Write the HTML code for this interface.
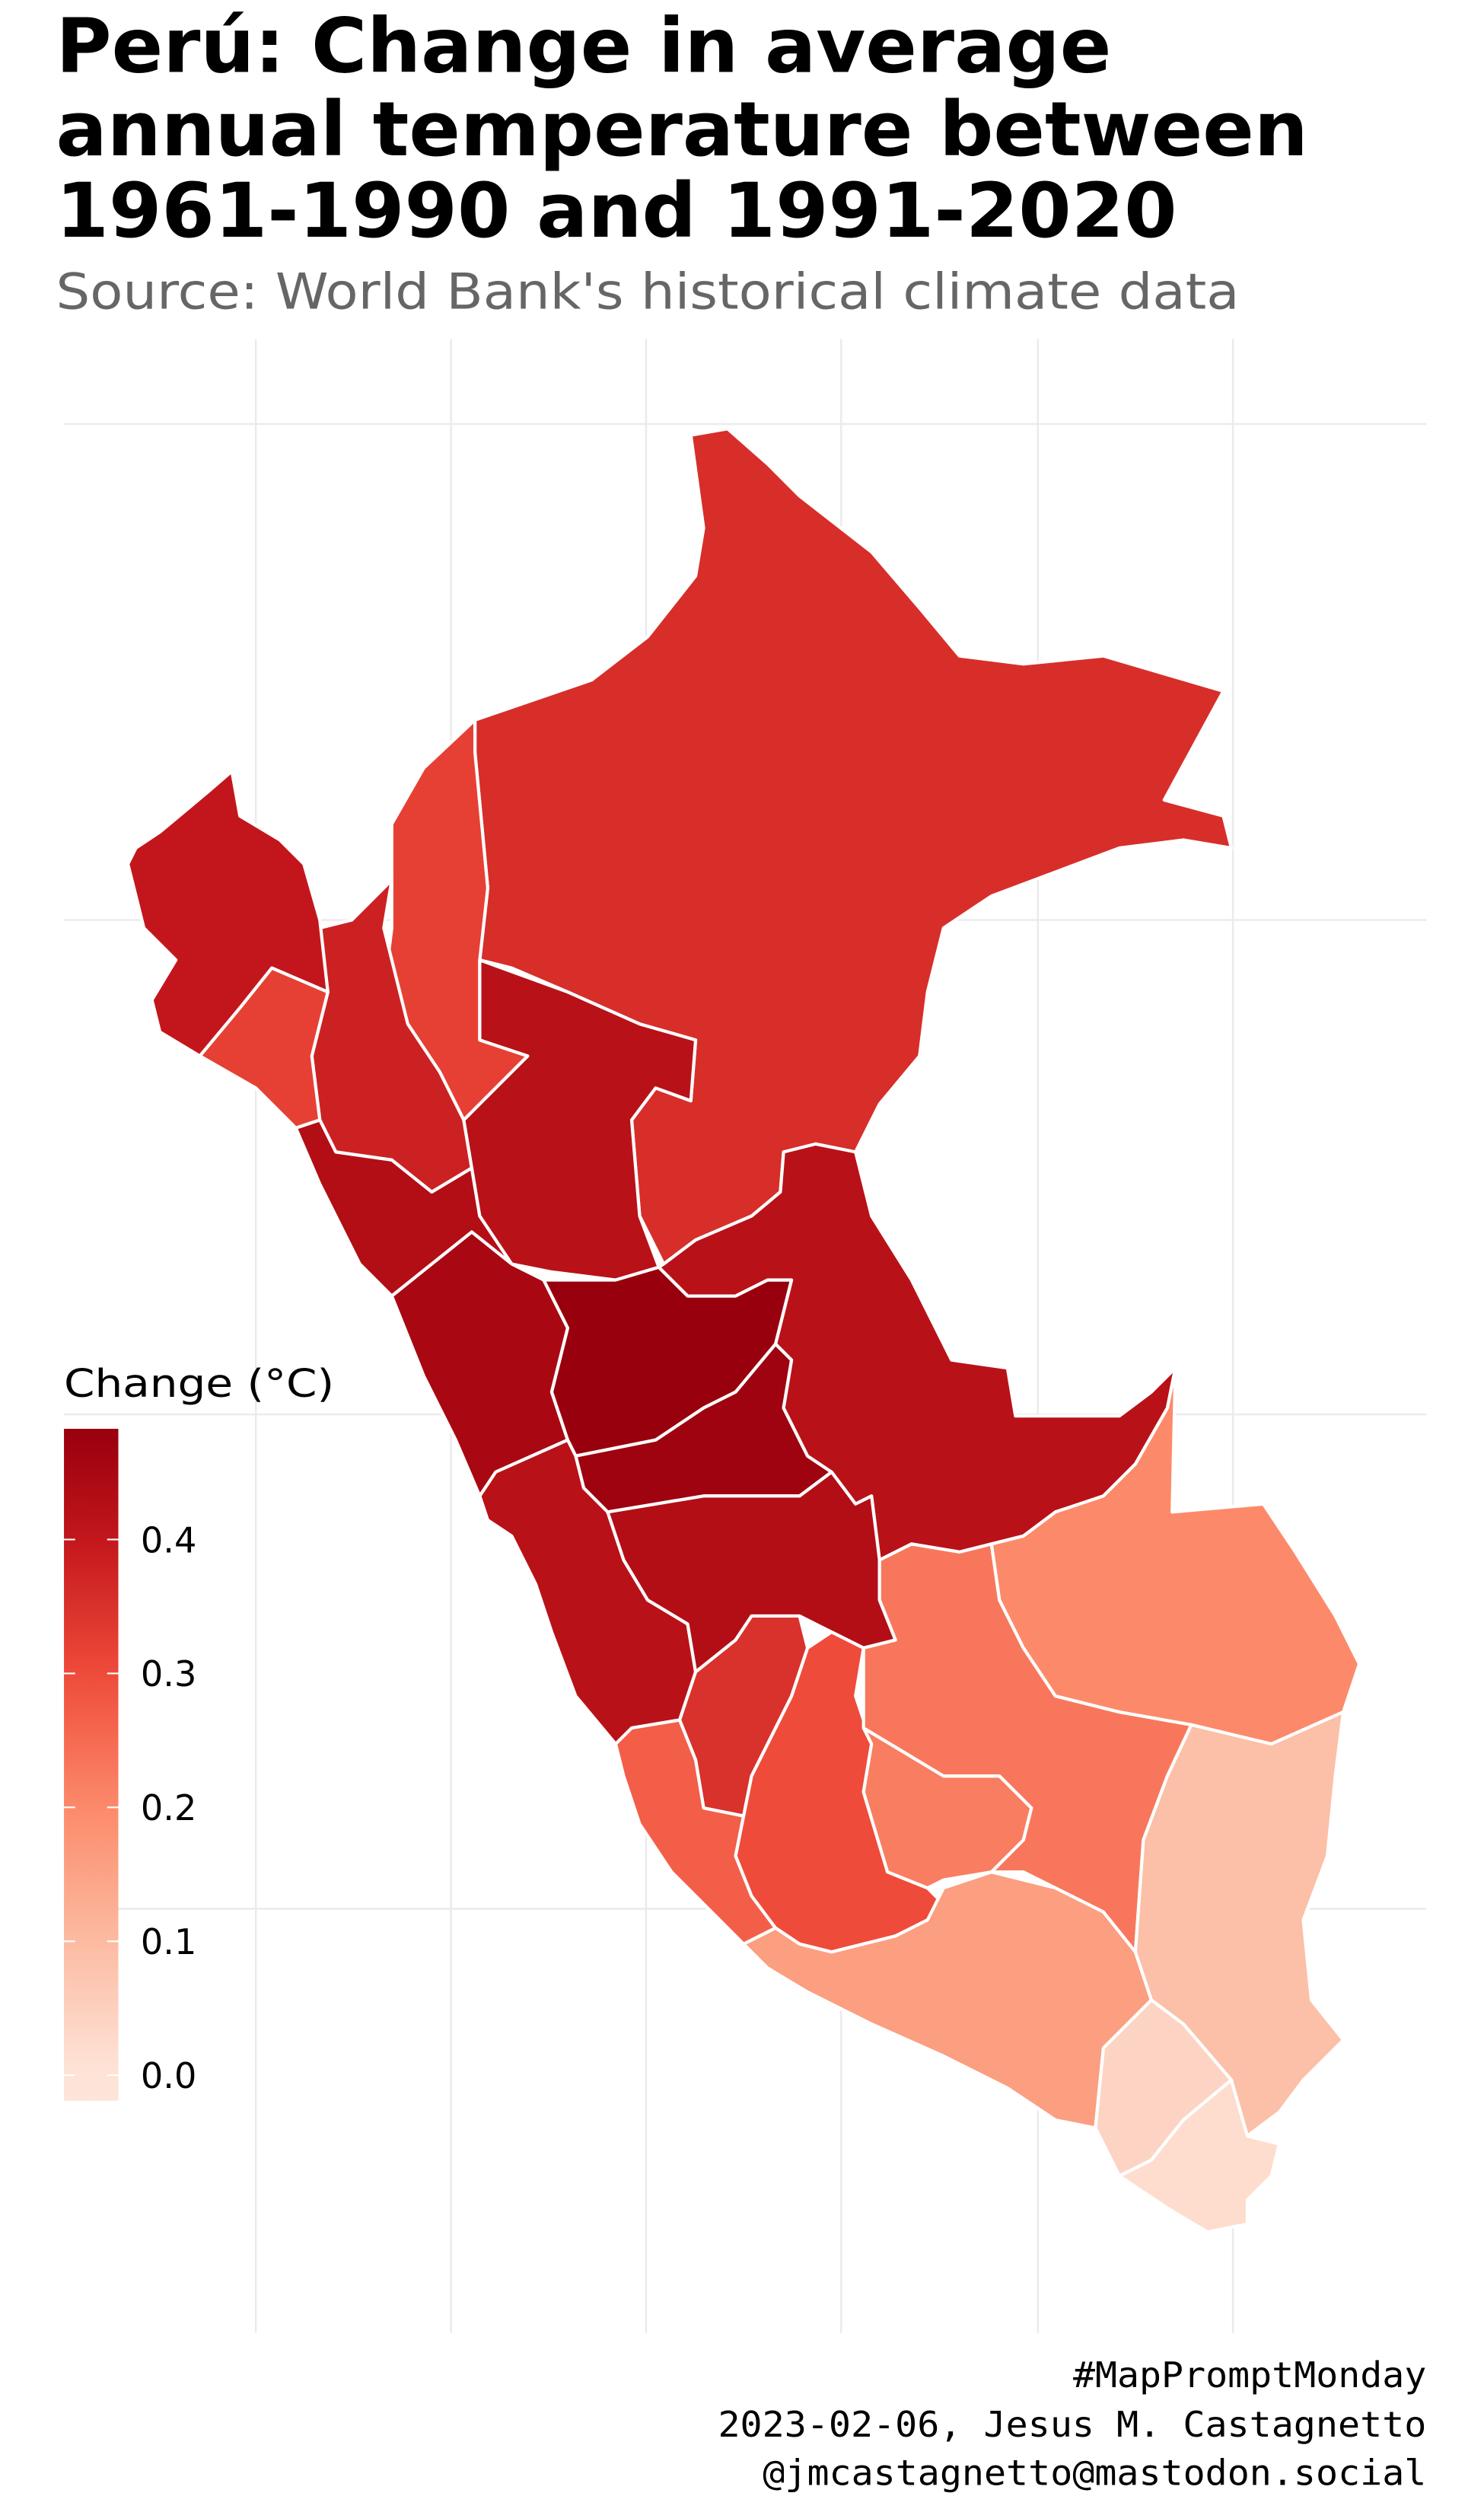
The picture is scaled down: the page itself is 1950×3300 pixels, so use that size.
<!DOCTYPE html>
<html><head><meta charset="utf-8">
<style>
html,body{margin:0;padding:0;background:#fff;}
svg{display:block;}
text{font-family:"DejaVu Sans","Liberation Sans",sans-serif;}
.mono{font-family:"DejaVu Sans Mono","Liberation Mono",monospace;}
</style></head>
<body>
<svg id="chart" width="1950" height="3300" viewBox="0 0 928 1570" preserveAspectRatio="none" xmlns="http://www.w3.org/2000/svg">
<g font-weight="bold" font-size="47" fill="#000">
<text x="35" y="45" textLength="660" lengthAdjust="spacingAndGlyphs">Perú: Change in average</text>
<text x="35" y="97" textLength="783" lengthAdjust="spacingAndGlyphs">annual temperature between</text>
<text x="35" y="148" textLength="701" lengthAdjust="spacingAndGlyphs">1961-1990 and 1991-2020</text>
</g>
<text x="35" y="193" font-size="31" fill="#666" textLength="740" lengthAdjust="spacingAndGlyphs">Source: World Bank's historical climate data</text>
<g id="grid" stroke="#ebebeb" stroke-width="1.2"></g>
<g id="regions" stroke="#fff" stroke-width="2" stroke-linejoin="round"></g>
<g id="legend">
<text x="40" y="873" font-size="24" fill="#000" textLength="169" lengthAdjust="spacingAndGlyphs">Change (°C)</text>
<defs><linearGradient id="grad" x1="0" y1="1" x2="0" y2="0"></linearGradient></defs>
<rect x="40" y="893" width="34" height="420" fill="url(#grad)"/>
</g>
<g font-size="22" fill="#000" text-anchor="end">
<text class="mono" x="892" y="1492" textLength="221" lengthAdjust="spacingAndGlyphs">#MapPromptMonday</text>
<text class="mono" x="892" y="1523" textLength="443" lengthAdjust="spacingAndGlyphs">2023-02-06, Jesus M. Castagnetto</text>
<text class="mono" x="892" y="1553" textLength="415" lengthAdjust="spacingAndGlyphs">@jmcastagnetto@mastodon.social</text>
</g>
</svg>
<script>
const regionNames=["Loreto","Amazonas","Cajamarca","Piura","Lambayeque","La Libertad","San Martin","Ancash","Huanuco","Pasco","Ucayali","Lima","Junin","Huancavelica","Ica","Ayacucho","Apurimac","Cusco","Madre de Dios","Arequipa","Puno","Moquegua","Tacna"];
const regionValues=[0.355,0.32,0.38,0.40,0.32,0.43,0.42,0.45,0.48,0.47,0.42,0.42,0.43,0.35,0.27,0.30,0.22,0.23,0.20,0.16,0.09,0.04,0.02];
const legendTicks=[0.0,0.1,0.2,0.3,0.4];
const shapes=[
"297,450 370,425 405,398 435,360 440,330 432,272 455,268 480,290 500,310 545,345 575,380 600,410 640,415 690,410 765,432 728,500 765,510 770,530 740,525 700,530 660,545 620,560 590,580 580,620 575,660 550,690 535,720 510,715 490,720 488,745 470,760 435,775 415,790 400,760 395,700 410,680 432,688 435,650 400,640 355,620 320,605 300,600 305,555 297,470",
"297,450 297,470 305,555 300,600 300,650 330,660 300,690 290,700 275,670 255,640 240,620 245,580 245,515 265,480",
"245,550 240,580 255,640 275,670 290,700 295,730 270,745 245,725 210,720 200,700 195,660 205,620 200,580 220,575",
"85,530 100,520 130,495 145,482 150,510 175,525 190,540 200,575 205,620 170,605 150,630 125,660 100,645 95,625 110,600 90,580 80,540",
"125,660 150,630 170,605 205,620 195,660 200,700 185,705 160,680",
"185,705 200,700 210,720 245,725 270,745 295,730 300,760 320,790 295,770 270,790 245,810 225,790 200,740",
"300,600 355,620 400,640 435,650 432,688 410,680 395,700 400,760 412,792 385,800 345,795 320,790 300,760 295,730 290,700 300,690 330,660 300,650",
"245,810 270,790 295,770 320,790 340,800 355,830 345,870 355,900 310,920 300,935 285,900 265,860",
"340,800 385,800 412,792 430,810 460,810 480,800 495,800 485,840 460,870 440,880 410,900 360,910 355,900 345,870 355,830",
"360,910 410,900 440,880 460,870 485,840 495,850 490,880 505,910 520,920 500,935 470,935 440,935 410,940 380,945 365,930",
"412,792 415,790 435,775 470,760 488,745 490,720 510,715 535,720 545,760 570,800 595,850 630,855 635,885 700,885 720,870 735,855 730,880 710,915 690,935 660,945 640,960 620,965 600,970 570,965 550,975 545,935 535,940 520,920 505,910 490,880 495,850 485,840 495,800 480,800 460,810 430,810",
"300,935 310,920 355,900 360,910 365,930 380,945 390,975 405,1000 430,1015 435,1045 425,1075 395,1080 385,1090 360,1060 345,1020 335,990 320,960 305,950",
"380,945 410,940 440,935 470,935 500,935 520,920 535,940 545,935 550,975 550,1000 560,1025 540,1030 520,1020 500,1010 470,1010 460,1025 435,1045 430,1015 405,1000 390,975",
"435,1045 460,1025 470,1010 500,1010 505,1030 495,1060 480,1090 470,1110 465,1135 440,1130 435,1100 425,1075",
"385,1090 395,1080 425,1075 435,1100 440,1130 465,1135 460,1160 470,1185 485,1205 465,1215 445,1195 420,1170 400,1140 390,1110",
"505,1030 520,1020 540,1030 535,1060 545,1090 540,1120 555,1170 580,1180 590,1190 580,1200 560,1210 540,1215 520,1220 500,1215 485,1205 470,1185 460,1160 465,1135 470,1110 480,1090 495,1060",
"540,1120 545,1090 540,1080 565,1095 590,1110 625,1110 645,1130 640,1150 620,1170 590,1175 580,1180 555,1170",
"550,975 570,965 600,970 620,965 625,1000 640,1030 660,1060 700,1070 745,1078 730,1110 715,1150 710,1220 690,1195 660,1180 640,1170 620,1170 640,1150 645,1130 625,1110 590,1110 565,1095 540,1080 540,1030 560,1025 550,1000",
"640,960 660,945 690,935 710,915 730,880 735,855 733,945 790,940 810,970 835,1010 850,1040 840,1070 795,1090 745,1078 700,1070 660,1060 640,1030 625,1000 620,965",
"465,1215 485,1205 500,1215 520,1220 540,1215 560,1210 580,1200 590,1180 620,1170 660,1180 690,1195 710,1220 720,1250 690,1280 685,1330 660,1325 630,1305 590,1285 545,1265 505,1245 480,1230",
"745,1078 795,1090 840,1070 835,1110 830,1160 815,1200 820,1250 840,1275 815,1300 800,1320 780,1335 770,1300 740,1265 720,1250 710,1220 715,1150 730,1110",
"685,1330 690,1280 720,1250 740,1265 770,1300 740,1325 720,1350 700,1360",
"700,1360 720,1350 740,1325 770,1300 780,1335 800,1340 795,1360 780,1375 780,1390 755,1395 730,1380"
];
const stops=[[0,[254,229,217]],[0.1,[252,187,161]],[0.2,[252,138,106]],[0.3,[239,75,58]],[0.4,[195,22,28]],[0.48,[153,0,13]]];
function color(v){
  if(v<=stops[0][0]) return 'rgb('+stops[0][1]+')';
  for(let i=1;i<stops.length;i++){
    if(v<=stops[i][0]){const a=stops[i-1],b=stops[i];const t=(v-a[0])/(b[0]-a[0]);
      return 'rgb('+a[1].map((c,k)=>Math.round(c+(b[1][k]-c)*t)).join(',')+')';}
  }
  return 'rgb('+stops[stops.length-1][1]+')';
}
const NS='http://www.w3.org/2000/svg';
const grid=document.getElementById('grid');
[265,575,884,1193].forEach(y=>{const l=document.createElementNS(NS,'line');l.setAttribute('x1',40);l.setAttribute('x2',892);l.setAttribute('y1',y);l.setAttribute('y2',y);


grid.appendChild(l);});
[160,282,404,526,649,771].forEach(x=>{const l=document.createElementNS(NS,'line');l.setAttribute('x1',x);l.setAttribute('x2',x);l.setAttribute('y1',212);l.setAttribute('y2',1458);


grid.appendChild(l);});
const rg=document.getElementById('regions');
regionNames.forEach((n,i)=>{const p=document.createElementNS(NS,'polygon');p.setAttribute('points',shapes[i]);p.setAttribute('fill',color(regionValues[i]));


rg.appendChild(p);});
const barTop=893,barBot=1313,v0y=1297,pxPer=837;
const vTop=(v0y-barTop)/pxPer,vBot=(v0y-barBot)/pxPer;
const grad=document.getElementById('grad');
for(let k=0;k<=20;k++){const v=vBot+(vTop-vBot)*k/20;const s=document.createElementNS(NS,'stop');s.setAttribute('offset',(k/20));s.setAttribute('stop-color',color(v));grad.appendChild(s);}
const lg=document.getElementById('legend');
legendTicks.forEach(t=>{const y=v0y-t*pxPer;
 const tx=document.createElementNS(NS,'text');tx.setAttribute('x',88);tx.setAttribute('y',y+8);tx.setAttribute('font-size','22');tx.textContent=t.toFixed(1);
 
 
 lg.appendChild(tx);
 [[40,47],[67,74]].forEach(([a,b])=>{const l=document.createElementNS(NS,'line');l.setAttribute('x1',a);l.setAttribute('x2',b);l.setAttribute('y1',y);l.setAttribute('y2',y);l.setAttribute('stroke','#fff');l.setAttribute('stroke-width','1');
 
 
 lg.appendChild(l);});
});
</script>
</body></html>
